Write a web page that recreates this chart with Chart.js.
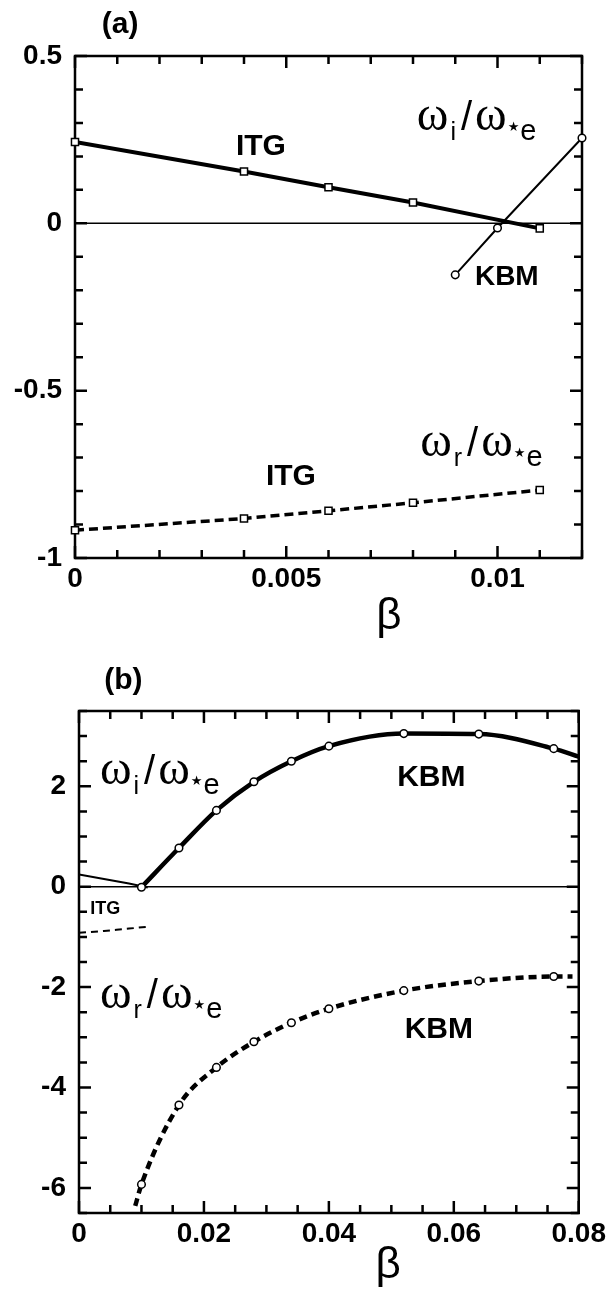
<!DOCTYPE html>
<html>
<head>
<meta charset="utf-8">
<script src="https://cdn.jsdelivr.net/npm/chart.js@4.4.0/dist/chart.umd.min.js"></script>
<style>
    html, body { margin: 0; padding: 0; background: #fff; }
    .panneau { position: absolute; left: 0; width: 610px; }
    #panneauA { top: 0; height: 640px; }
    #panneauB { top: 640px; height: 652px; }
</style>
</head>
<body>
<div class="panneau" id="panneauA"><canvas id="grapheA"></canvas></div>
<div class="panneau" id="panneauB"><canvas id="grapheB"></canvas></div>
<script>
// ---------------------------------------------- Donnees (a) ----------------------------------------------
var betaItgA = [0, 0.004, 0.006, 0.008, 0.011];
var croissanceItgA = [0.243, 0.155, 0.108, 0.062, -0.015];
var frequenceItgA = [-0.917, -0.882, -0.859, -0.835, -0.797];
var betaKbmA = [0.009, 0.010, 0.012];
var croissanceKbmA = [-0.154, -0.014, 0.255];

// ---------------------------------------------- Donnees (b) ----------------------------------------------
var betaKbmB = [0.010, 0.016, 0.022, 0.028, 0.034, 0.040, 0.052, 0.064, 0.076];
var croissanceKbmB = [-0.01, 0.77, 1.52, 2.09, 2.50, 2.80, 3.05, 3.04, 2.75];
var frequenceKbmB = [-5.93, -4.35, -3.60, -3.09, -2.71, -2.43, -2.07, -1.88, -1.79];
// bouts de courbe sans marqueur
var finCroissanceKbmB = [0.080, 2.59];
var debutFrequenceKbmB = [0.009, -6.36];
var finFrequenceKbmB = [0.079, -1.79];

// axes : min, max, pas des petites graduations, pas des etiquettes
var axeXA = [0, 0.012, 0.001, 0.005];
var axeYA = [-1, 0.5, 0.1, 0.5];
var axeXB = [0, 0.08, 0.005, 0.02];
var axeYB = [-6.5, 3.5, 0.5, 2];

var POLICE = "'Liberation Sans', Arial, sans-serif";
var SERIF = "'Liberation Serif', 'DejaVu Serif', serif";

function points(xs, ys) {
    var res = [];
    for (var i = 0; i < xs.length; i++) {
        res.push({ x: xs[i], y: ys[i] });
    }
    return res;
}

function estMajeur(v, pas) {
    return Math.abs(v / pas - Math.round(v / pas)) < 1e-6;
}

function Echelle(axe, taille, horizontal) {
    return {
        type: 'linear',
        min: axe[0],
        max: axe[1],
        afterFit: function (s) {
            if (horizontal) s.height = taille; else s.width = taille;
        },
        grid: { display: false, drawTicks: false, tickLength: 0 },
        border: { display: false },
        ticks: {
            stepSize: axe[2],
            autoSkip: false,
            maxRotation: 0,
            minRotation: 0,
            padding: horizontal ? 4 : 13,
            color: '#000',
            font: { family: POLICE, size: 28, weight: 'bold' },
            callback: function (v) {
                return estMajeur(v, axe[3]) ? Number(v.toFixed(4)).toString() : '';
            }
        }
    };
}

// omega_x / omega_*e
function Rapport(ctx, x, y, indice) {
    var cx = x;
    ctx.textAlign = 'left';
    ctx.textBaseline = 'alphabetic';
    ctx.font = '48px ' + SERIF;
    ctx.fillText('ω', cx, y);
    cx += ctx.measureText('ω').width + 2;
    ctx.font = '25px ' + POLICE;
    ctx.fillText(indice, cx, y + 10);
    cx += ctx.measureText(indice).width + 5;
    ctx.font = '40px ' + POLICE;
    ctx.fillText('/', cx, y);
    cx += ctx.measureText('/').width + 3;
    ctx.font = '48px ' + SERIF;
    ctx.fillText('ω', cx, y);
    cx += ctx.measureText('ω').width + 1;
    ctx.font = '13px DejaVu Sans';
    ctx.fillText('★', cx, y + 1);
    cx += ctx.measureText('★').width + 1;
    ctx.font = '29px ' + POLICE;
    ctx.fillText('e', cx, y + 10);
}

// cadre, graduations vers l'interieur, ligne du zero et textes
function Habillage(textes) {
    return {
        id: 'habillage',
        beforeDatasetsDraw: function (chart) {
            var ctx = chart.ctx, a = chart.chartArea, sx = chart.scales.x, sy = chart.scales.y;
            ctx.save();
            ctx.strokeStyle = '#000';
            var y0 = sy.getPixelForValue(0);
            ctx.lineWidth = 1.5;
            ctx.beginPath();
            ctx.moveTo(a.left, y0);
            ctx.lineTo(a.right, y0);
            ctx.stroke();
            ctx.lineWidth = 2.5;
            ctx.beginPath();
            sx.ticks.forEach(function (t) {
                var x = sx.getPixelForValue(t.value);
                var l = t.label ? 12 : 8;
                ctx.moveTo(x, a.bottom); ctx.lineTo(x, a.bottom - l);
                ctx.moveTo(x, a.top); ctx.lineTo(x, a.top + l);
            });
            sy.ticks.forEach(function (t) {
                var y = sy.getPixelForValue(t.value);
                var l = t.label ? 12 : 8;
                ctx.moveTo(a.left, y); ctx.lineTo(a.left + l, y);
                ctx.moveTo(a.right, y); ctx.lineTo(a.right - l, y);
            });
            ctx.stroke();
            ctx.lineWidth = 2.5;
            ctx.strokeRect(a.left, a.top, a.right - a.left, a.bottom - a.top);
            ctx.restore();
        },
        afterDraw: function (chart) {
            var ctx = chart.ctx, sx = chart.scales.x, sy = chart.scales.y;
            ctx.save();
            ctx.fillStyle = '#000';
            textes.forEach(function (t) {
                var x = sx.getPixelForValue(t[1]), y = sy.getPixelForValue(t[2]);
                if (t[0] == 'ratio') {
                    Rapport(ctx, x, y, t[3]);
                } else {
                    ctx.font = (t[4] || 'bold') + ' ' + t[3] + 'px ' + POLICE;
                    ctx.textAlign = 'center';
                    ctx.textBaseline = 'middle';
                    ctx.fillText(t[0], x, y);
                }
            });
            ctx.restore();
        }
    };
}

function Trait(donnees, largeur, tirets) {
    return {
        data: donnees,
        showLine: true,
        borderColor: '#000',
        borderWidth: largeur,
        borderDash: tirets || [],
        pointRadius: 0,
        pointHoverRadius: 0,
        tension: 0
    };
}

function Marqueurs(donnees, forme) {
    return {
        data: donnees,
        showLine: false,
        clip: false,
        pointStyle: forme,
        pointRadius: forme == 'rect' ? 5 : 3.8,
        pointBackgroundColor: '#fff',
        pointBorderColor: '#000',
        pointBorderWidth: 1.5
    };
}

function Options(axeX, axeY, hautX, largY, pad) {
    return {
        responsive: true,
        maintainAspectRatio: false,
        animation: false,
        events: [],
        layout: { padding: pad },
        plugins: { legend: { display: false }, tooltip: { enabled: false } },
        scales: {
            x: Echelle(axeX, hautX, true),
            y: Echelle(axeY, largY, false)
        }
    };
}

//-------------------------------------------------- Graphe (a) --------------------------------------------------
new Chart(document.getElementById('grapheA'), {
    type: 'scatter',
    data: {
        datasets: [
            Marqueurs(points(betaItgA, croissanceItgA), 'rect'),
            Marqueurs(points(betaItgA, frequenceItgA), 'rect'),
            Marqueurs(points(betaKbmA, croissanceKbmA), 'circle'),
            Trait(points(betaItgA, croissanceItgA), 4),
            Trait(points(betaKbmA, croissanceKbmA), 2),
            Trait(points(betaItgA, frequenceItgA), 3.5, [9, 5])
        ]
    },
    options: Options(axeXA, axeYA, 82, 75, { left: 0, right: 28, top: 56, bottom: 0 }),
    plugins: [Habillage([
        ['(a)', 0.00107, 0.593, 30],
        ['ITG', 0.0044, 0.228, 30],
        ['ratio', 0.00809, 0.278, 'i'],
        ['KBM', 0.01022, -0.162, 28],
        ['ratio', 0.00817, -0.695, 'r'],
        ['ITG', 0.00511, -0.757, 30],
        ['β', 0.00743, -1.177, 44, 'normal']
    ])]
});

//-------------------------------------------------- Graphe (b) --------------------------------------------------
var courbeCroissance = Trait(points(betaKbmB.concat([finCroissanceKbmB[0]]), croissanceKbmB.concat([finCroissanceKbmB[1]])), 4.5);
courbeCroissance.cubicInterpolationMode = 'monotone';
var courbeFrequence = Trait(points([debutFrequenceKbmB[0]].concat(betaKbmB, [finFrequenceKbmB[0]]),
    [debutFrequenceKbmB[1]].concat(frequenceKbmB, [finFrequenceKbmB[1]])), 4.5, [8, 5]);
courbeFrequence.cubicInterpolationMode = 'monotone';

new Chart(document.getElementById('grapheB'), {
    type: 'scatter',
    data: {
        datasets: [
            Marqueurs(points(betaKbmB, croissanceKbmB), 'circle'),
            Marqueurs(points(betaKbmB, frequenceKbmB), 'circle'),
            courbeCroissance,
            courbeFrequence,
            Trait(points(betaItgA, croissanceItgA), 2),
            Trait(points(betaItgA, frequenceItgA), 2, [7, 5])
        ]
    },
    options: Options(axeXB, axeYB, 652 - 573, 79, { left: 0, right: 30, top: 71, bottom: 0 }),
    plugins: [Habillage([
        ['(b)', 0.0071, 4.10, 30],
        ['ratio', 0.00335, 2.05, 'i'],
        ['KBM', 0.0564, 2.18, 30],
        ['ITG', 0.00420, -0.44, 18],
        ['ratio', 0.00335, -2.42, 'r'],
        ['KBM', 0.0576, -2.85, 30],
        ['β', 0.0495, -7.55, 44, 'normal']
    ])]
});
</script>
</body>
</html>
